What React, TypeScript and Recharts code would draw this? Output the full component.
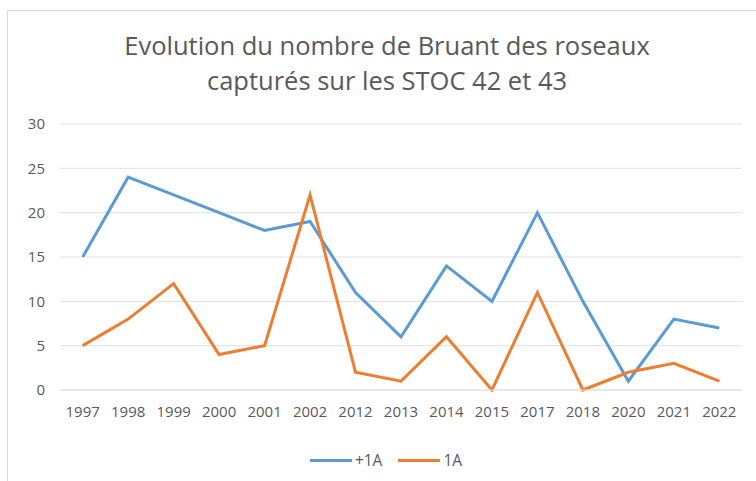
import { CartesianGrid, Legend, Line, LineChart, XAxis, YAxis } from "recharts"

// categories (years) and the two series
const years = ["1997", "1998", "1999", "2000", "2001", "2002", "2012", "2013", "2014", "2015", "2017", "2018", "2020", "2021", "2022"]
const adults = [15, 24, 22, 20, 18, 19, 11, 6, 14, 10, 20, 10, 1, 8, 7]
const firstYear = [5, 8, 12, 4, 5, 22, 2, 1, 6, 0, 11, 0, 2, 3, 1]
const yTicks = [0, 5, 10, 15, 20, 25, 30]

const data = years.map((year, i) => ({ year, plus1A: adults[i], oneA: firstYear[i] }))

const font = "'Open Sans', 'Noto Sans', sans-serif"
const grey = "#595959"

function LegendContent() {
  const items = [
    { label: "+1A", color: "#5B9BD5" },
    { label: "1A", color: "#ED7D31" },
  ]
  return (
    <div style={{ display: "flex", justifyContent: "center", gap: 16, paddingLeft: 16, fontFamily: font, fontSize: 15.5, lineHeight: "20px", color: grey }}>
      {items.map((it) => (
        <div key={it.label} style={{ display: "flex", alignItems: "center" }}>
          <span style={{ display: "inline-block", width: 42, height: 3, background: it.color, marginRight: 3 }} />
          {it.label}
        </div>
      ))}
    </div>
  )
}

export default function App() {
  return (
    <div style={{ position: "absolute", left: 0, top: 0, width: 756, height: 481, overflow: "hidden", background: "#fff" }}>
      <div style={{ position: "absolute", left: 7, top: 10, width: 800, height: 520, border: "1px solid #d9d9d9" }} />
      <div
        style={{
          position: "absolute",
          left: 0,
          top: 28,
          width: 774,
          textAlign: "center",
          fontFamily: font,
          fontSize: 25.5,
          lineHeight: "35px",
          color: grey,
        }}
      >
        Evolution du nombre de Bruant des roseaux
        <br />
        capturés sur les STOC 42 et 43
      </div>
      <div style={{ position: "absolute", left: 0, top: 0 }}>
        <LineChart width={756} height={481} data={data} margin={{ top: 124, right: 14, bottom: 41, left: 0 }}>
          <CartesianGrid vertical={false} stroke="#e0e0e0" strokeWidth={1} />
          <XAxis
            dataKey="year"
            axisLine={{ stroke: "#e0e0e0" }}
            tickLine={false}
            tick={{ fill: grey, fontSize: 15, fontFamily: font }}
            padding={{ left: 22.7, right: 22.7 }}
            interval={0}
            height={30}
            tickSize={0}
            tickMargin={16}
          />
          <YAxis
            domain={[0, 30]}
            ticks={yTicks}
            axisLine={false}
            tickLine={false}
            tick={{ fill: grey, fontSize: 15, fontFamily: font }}
            width={60}
            tickSize={0}
            tickMargin={15}
          />
          <Legend
            content={<LegendContent />}
            wrapperStyle={{ position: "absolute", top: 450, left: 0, width: 756 }}
          />
          <Line dataKey="plus1A" name="+1A" stroke="#5B9BD5" strokeWidth={3} dot={false} isAnimationActive={false} />
          <Line dataKey="oneA" name="1A" stroke="#ED7D31" strokeWidth={3} dot={false} isAnimationActive={false} />
        </LineChart>
      </div>
    </div>
  )
}
